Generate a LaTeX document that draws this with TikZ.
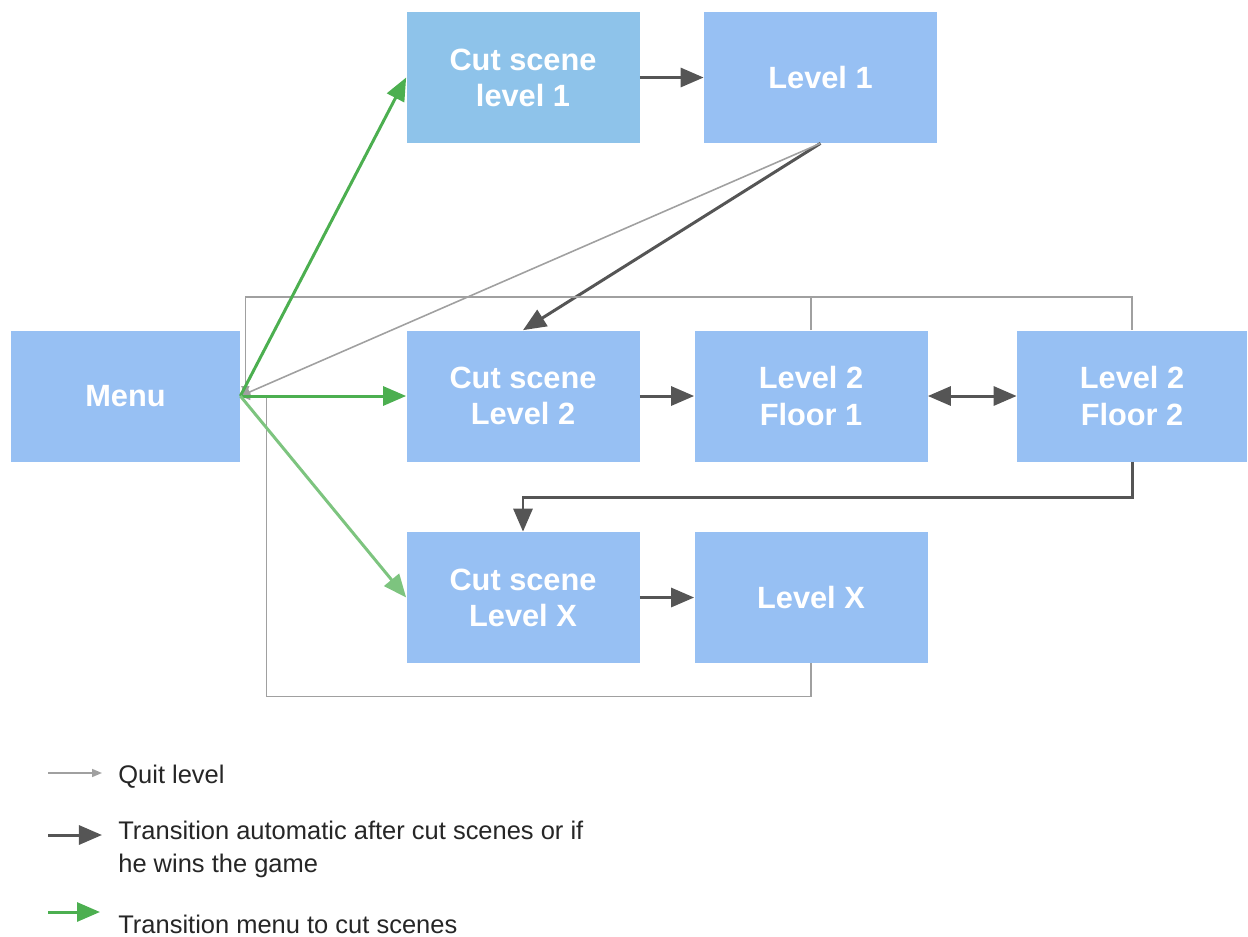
\documentclass[tikz,border=0pt]{standalone}
\usepackage{fontspec}
\setmainfont{Liberation Sans}
\usetikzlibrary{arrows.meta}
\definecolor{boxblue}{HTML}{97C0F3}
\definecolor{cutblue}{HTML}{8EC3EA}
\definecolor{arrowgray}{HTML}{555555}
\definecolor{quitgray}{HTML}{A0A0A0}
\definecolor{menugreen}{HTML}{4CAF50}
\definecolor{lightgreen}{HTML}{7DC47F}
\begin{document}
\begin{tikzpicture}[node distance=5.8cm, >={Triangle[length=0.46cm,width=0.38cm]}]
    \tikzstyle{room} = [rectangle, fill=boxblue, text=white, font=\fontsize{17.5}{20.5}\selectfont\bfseries, align=center, minimum width=4.66cm, minimum height=2.62cm, inner sep=0pt]
    \tikzstyle{trans} = [->, draw=arrowgray, line width=1.7pt]
    \tikzstyle{menuto} = [->, draw=menugreen, line width=1.7pt]
    \tikzstyle{quit} = [-{Triangle[length=0.2cm,width=0.16cm]}, draw=quitgray, line width=0.9pt]
    \tikzstyle{legend} = [anchor=west, align=left, font=\fontsize{14.5}{18.8}\selectfont, text=black!85, inner sep=0pt]
    \useasboundingbox (0,0) rectangle (24.96,-18.72);

    \node [room, minimum width=4.58cm] (menu) at (2.51,-7.92) {Menu};
    \node [room, right of=menu, xshift=2.15cm] (cs2) {Cut scene\\Level 2};
    \node [room, right of=cs2, xshift=-0.04cm] (f1) {Level 2\\Floor 1};
    \node [room, right of=f1, xshift=0.62cm, minimum width=4.6cm] (f2) {Level 2\\Floor 2};
    \node [room, fill=cutblue, above of=cs2, yshift=0.57cm] (cs1) {Cut scene\\level 1};
    \node [room, right of=cs1, xshift=0.15cm] (l1) {Level 1};
    \node [room, below of=cs2, yshift=1.77cm] (csx) {Cut scene\\Level X};
    \node [room, right of=csx, xshift=-0.04cm] (lx) {Level X};

    \draw [trans] (cs1) -- (l1);
    \draw [trans] (l1.south) -- (cs2.north);
    \draw [trans] (cs2) -- (f1);
    \draw [trans, <->] (f1) -- (f2);
    \draw [trans] (f2.south) -- ++(0,-0.72) -| (csx.north);
    \draw [trans] (csx) -- (lx);

    \draw [quit] (l1.south) -- (menu.east);
    \draw [quit] (f1.north) -- ++(0,0.66) -| ([xshift=0.1cm]menu.east);
    \draw [quit, -] (f2.north) -- ++(0,0.66) -| (f1.north);
    \draw [quit] (lx.south) -- ++(0,-0.66) -| ([xshift=0.52cm]menu.east) -- (menu.east);

    \draw [menuto] (menu.east) -- (cs1.west);
    \draw [menuto] (menu.east) -- (cs2.west);
    \draw [menuto, draw=lightgreen] (menu.east) -- (csx.west);

    % legend
    \coordinate (q1) at (0.96,-15.46);
    \coordinate (q2) at (2.04,-15.46);
    \coordinate (t1) at (0.96,-16.70);
    \coordinate (t2) at (2.04,-16.70);
    \coordinate (g1) at (0.96,-18.24);
    \coordinate (g2) at (2.00,-18.24);
    \draw [quit] (q1) -- (q2);
    \draw [trans] (t1) -- (t2);
    \draw [menuto] (g1) -- (g2);
    \node [legend] (lq) at (2.36,-15.54) {Quit level};
    \node [legend] (lt) at (2.36,-16.99) {Transition automatic after cut scenes or if\\he wins the game};
    \node [legend] (lg) at (2.36,-18.48) {Transition menu to cut scenes};
\end{tikzpicture}
\end{document}
